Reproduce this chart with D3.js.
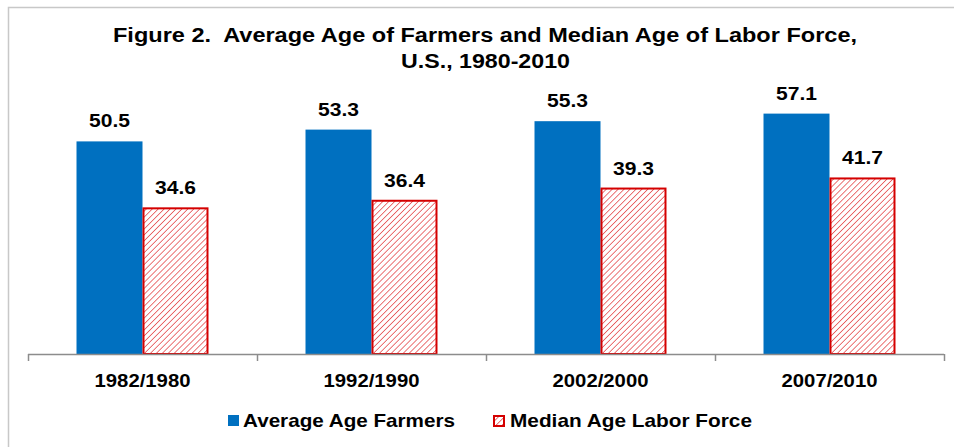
<!DOCTYPE html>
<html>
<head>
<meta charset="utf-8">
<script src="https://cdn.jsdelivr.net/npm/d3@7"></script>
<style>
  html, body { margin: 0; padding: 0; background: #fff; }
  svg { display: block; }
  text { font-family: "Liberation Sans", Arial, sans-serif; font-weight: bold; fill: #000; white-space: pre; }
</style>
</head>
<body>
<svg id="chart" width="954" height="447"></svg>
<script>
const categories = ["1982/1980", "1992/1990", "2002/2000", "2007/2010"];
const seriesNames = ["Average Age Farmers", "Median Age Labor Force"];
const farmers = [50.5, 53.3, 55.3, 57.1];
const laborForce = [34.6, 36.4, 39.3, 41.7];
const titleLines = ["Figure 2.  Average Age of Farmers and Median Age of Labor Force,", "U.S., 1980-2010"];

const svg = d3.select("#chart");

// outer border
svg.append("rect").attr("x", 8.5).attr("y", 7.5).attr("width", 980).attr("height", 460)
  .attr("fill", "#fff").attr("stroke", "#c8c8c8").attr("stroke-width", 1.5);

// hatch pattern
const defs = svg.append("defs");
const pat = defs.append("pattern").attr("id", "hatch").attr("patternUnits", "userSpaceOnUse")
  .attr("width", 4.2).attr("height", 4.2).attr("patternTransform", "rotate(45)");
pat.append("rect").attr("width", 4.2).attr("height", 4.2).attr("fill", "#fff");
pat.append("line").attr("x1", 0).attr("y1", 0).attr("x2", 0).attr("y2", 4.2)
  .attr("stroke", "#e5484a").attr("stroke-width", 1.5);

const colors = ["#0070C0", "url(#hatch)"];

// title
const title = svg.append("g");
title.append("text").attr("x", 485).attr("y", 42).attr("text-anchor", "middle")
  .attr("font-size", 20).attr("textLength", 744).attr("lengthAdjust", "spacingAndGlyphs")
  .text(titleLines[0]);
title.append("text").attr("x", 485.5).attr("y", 68).attr("text-anchor", "middle")
  .attr("font-size", 20).attr("textLength", 169).attr("lengthAdjust", "spacingAndGlyphs")
  .text(titleLines[1]);

// scales
const x = d3.scaleBand().domain(categories).range([28, 944]).paddingInner(0).paddingOuter(0);
const xSub = d3.scaleBand().domain(seriesNames).range([0, x.bandwidth()]).paddingInner(0).paddingOuter(0.735);
const y = d3.scaleLinear().domain([0, 60]).range([354, 101.4]);

const data = categories.map((c, i) => ({ cat: c, vals: [farmers[i], laborForce[i]] }));

// bars
const groups = svg.append("g").selectAll("g").data(data).join("g")
  .attr("transform", d => `translate(${x(d.cat)},0)`);

groups.selectAll("rect").data(d => d.vals.map((v, j) => ({ v, s: seriesNames[j], j })))
  .join("rect")
  .attr("x", d => xSub(d.s) + (d.j === 1 ? 1 : 0))
  .attr("y", d => y(d.v))
  .attr("width", d => xSub.bandwidth() - (d.j === 1 ? 2 : 0))
  .attr("height", d => y(0) - y(d.v))
  .attr("fill", d => colors[d.j])
  .attr("stroke", d => d.j === 1 ? "#d40000" : "none")
  .attr("stroke-width", 2);

// data labels
groups.selectAll("text.val").data(d => d.vals.map((v, j) => ({ v, s: seriesNames[j], j })))
  .join("text").attr("class", "val")
  .attr("x", d => xSub(d.s) + xSub.bandwidth() / 2)
  .attr("y", d => y(d.v) - 14)
  .attr("text-anchor", "middle")
  .attr("font-size", 19)
  .attr("textLength", 41).attr("lengthAdjust", "spacingAndGlyphs")
  .text(d => d.v.toFixed(1));

// x axis
const axis = svg.append("g").attr("transform", `translate(0,${y(0)})`);
axis.append("line").attr("x1", 28).attr("x2", 944).attr("y1", 0.5).attr("y2", 0.5)
  .attr("stroke", "#8c8c8c").attr("stroke-width", 1.5);
const boundaries = categories.map(c => x(c)).concat([x(categories[categories.length - 1]) + x.bandwidth()]);
axis.selectAll("line.tick").data(boundaries).join("line").attr("class", "tick")
  .attr("x1", d => Math.round(d) + 0.5).attr("x2", d => Math.round(d) + 0.5)
  .attr("y1", 0).attr("y2", 7).attr("stroke", "#8c8c8c").attr("stroke-width", 1.5);
axis.selectAll("text").data(categories).join("text")
  .attr("x", d => x(d) + x.bandwidth() / 2)
  .attr("y", 33)
  .attr("text-anchor", "middle")
  .attr("font-size", 18)
  .attr("textLength", 96).attr("lengthAdjust", "spacingAndGlyphs")
  .text(d => d);

// legend
const legend = svg.append("g");
const legendItems = [
  { name: seriesNames[0], sx: 228, tx: 243, tw: 212 },
  { name: seriesNames[1], sx: 493, tx: 510, tw: 242 }
];
legendItems.forEach((it, j) => {
  if (j === 0) {
    legend.append("rect").attr("x", it.sx).attr("y", 415).attr("width", 11).attr("height", 11)
      .attr("fill", colors[0]);
  } else {
    legend.append("rect").attr("x", it.sx + 1).attr("y", 416).attr("width", 10).attr("height", 10)
      .attr("fill", colors[1]).attr("stroke", "#d40000").attr("stroke-width", 2);
  }
  legend.append("text").attr("x", it.tx).attr("y", 427)
    .attr("font-size", 19)
    .attr("textLength", it.tw).attr("lengthAdjust", "spacingAndGlyphs")
    .text(it.name);
});
</script>
</body>
</html>
